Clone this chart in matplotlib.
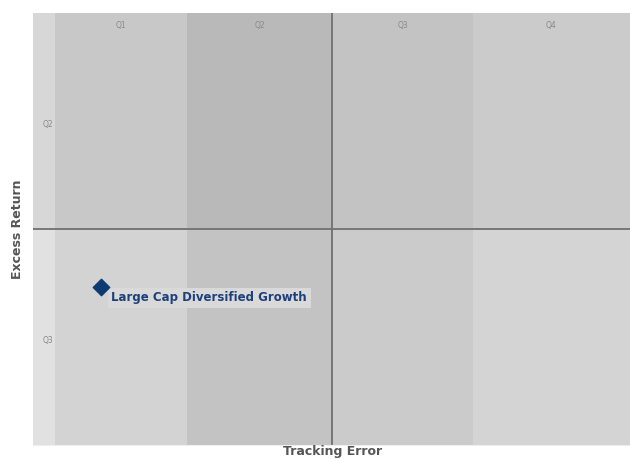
import matplotlib.pyplot as plt
from matplotlib.patches import Rectangle

# quartile column edges on the tracking error axis (first column is the label strip)
x_edges = [0.0, 0.37, 2.58, 5.01, 7.37, 10.0]
x_labels = ['', 'Q1', 'Q2', 'Q3', 'Q4']
y_edges = [-5.0, 0.0, 5.0]
y_labels = ['Q3', 'Q2']
y_label_pos = [-2.57, 2.41]
# column shades for the upper and lower half
top_colors = ['#d7d7d7', '#c8c8c8', '#b9b9b9', '#c3c3c3', '#cbcbcb']
bottom_colors = ['#e1e1e1', '#d3d3d3', '#c3c3c3', '#cbcbcb', '#d4d4d4']

x_mid = 5.01
y_mid = 0.0

# single fund point
fund_names = ['Large Cap Diversified Growth']
fund_te = [1.14]
fund_er = [-1.34]

fig = plt.figure(figsize=(6.3, 4.59), dpi=100)
ax = fig.add_axes([0.0524, 0.0305, 0.9476, 0.9412])
ax.set_xlim(x_edges[0], x_edges[-1])
ax.set_ylim(y_edges[0], y_edges[-1])

for i in range(len(x_edges) - 1):
    w = x_edges[i + 1] - x_edges[i]
    ax.add_patch(Rectangle((x_edges[i], y_edges[1]), w, y_edges[2] - y_edges[1],
                           color=top_colors[i], lw=0, zorder=0))
    ax.add_patch(Rectangle((x_edges[i], y_edges[0]), w, y_edges[1] - y_edges[0],
                           color=bottom_colors[i], lw=0, zorder=0))
    if x_labels[i]:
        ax.text((x_edges[i] + x_edges[i + 1]) / 2, 4.7, x_labels[i],
                ha='center', va='center', fontsize=5.5, color='#8a8a8a')

for lab, yv in zip(y_labels, y_label_pos):
    ax.text(0.25, yv, lab, ha='center', va='center', fontsize=5.5, color='#8a8a8a')

ax.axvline(x_mid, color='#707070', lw=1.3, zorder=1)
ax.axhline(y_mid, color='#707070', lw=1.3, zorder=1)

ax.scatter(fund_te, fund_er, marker='D', s=70, color='#0d3a72', zorder=5)
for name, xv, yv in zip(fund_names, fund_te, fund_er):
    ax.annotate(name, (xv, yv), xytext=(7.5, -8), textcoords='offset points',
                ha='left', va='center', fontsize=8.5, fontweight='bold', color='#1d3f7a',
                bbox=dict(boxstyle='square,pad=0.3', fc='#d9d9d9', ec='none'),
                zorder=4)

ax.set_xticks([])
ax.set_yticks([])
for s in ax.spines.values():
    s.set_visible(False)
ax.spines['bottom'].set_visible(True)
ax.spines['bottom'].set_color('#eeeeee')

fig.text(0.0524 + 0.9476 * x_mid / 10, 0.003, 'Tracking Error', ha='center', va='bottom',
         fontsize=9, fontweight='bold', color='#555555')
fig.text(0.027, 0.0305 + 0.9412 * 0.5, 'Excess Return', ha='center', va='center',
         rotation=90, fontsize=9, fontweight='bold', color='#555555')

fig.savefig('out.png', dpi=100)
